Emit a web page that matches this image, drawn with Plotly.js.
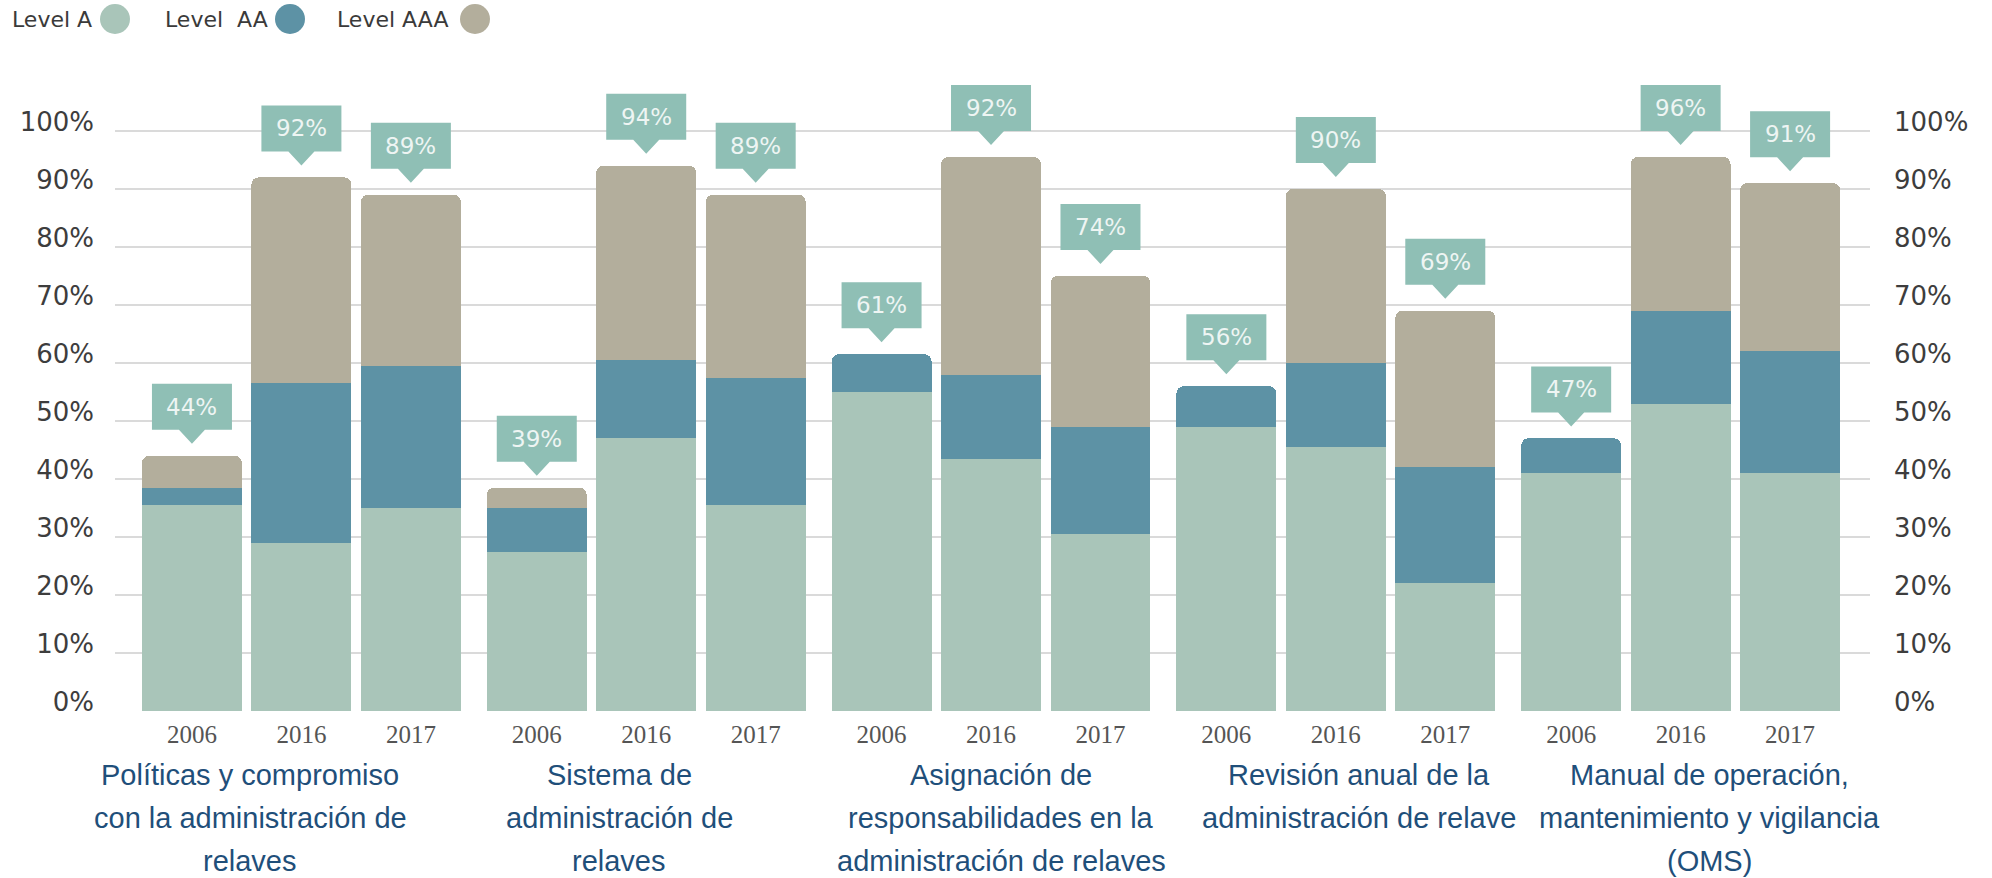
<!DOCTYPE html>
<html>
<head>
<meta charset="utf-8">
<script src="https://cdn.plot.ly/plotly-3.0.1.min.js"></script>
<style>
  html, body { margin: 0; padding: 0; background: #ffffff; }
  #chart { width: 1992px; height: 878px; }
</style>
</head>
<body>
<div id="chart"></div>
<script>
// ---- Data ----
const groups = [
  "Políticas y compromiso<br>con la administración de<br>relaves",
  "Sistema de<br>administración de<br>relaves",
  "Asignación de<br>responsabilidades en la<br>administración de relaves",
  "Revisión anual de la<br>administración de relave",
  "Manual de operación,<br>mantenimiento y vigilancia<br>(OMS)"
];
const years = ["2006", "2016", "2017"];

// one value per bar, ordered group by group, year by year
const levelA   = [35.5, 29.0, 35.0,  27.5, 47.0, 35.5,  55.0, 43.5, 30.5,  49.0, 45.5, 22.0,  41.0, 53.0, 41.0];
const levelAA  = [ 3.0, 27.5, 24.5,   7.5, 13.5, 22.0,   6.5, 14.5, 18.5,   7.0, 14.5, 20.0,   6.0, 16.0, 21.0];
const levelAAA = [ 5.5, 35.5, 29.5,   3.5, 33.5, 31.5,   0.0, 37.5, 26.0,   0.0, 30.0, 27.0,   0.0, 26.5, 29.0];
const printedTotals = [44, 92, 89,  39, 94, 89,  61, 92, 74,  56, 90, 69,  47, 96, 91];

const yTicks = [0, 10, 20, 30, 40, 50, 60, 70, 80, 90, 100];

// ---- Styling ----
const colA = "#a9c5b9", colAA = "#5d92a5", colAAA = "#b3ae9c";
const calloutCol = "#8fbfb5";
const groupStep = 3.15;         // horizontal distance between groups (in bar slots)

// positions of the bars on a numeric axis (slot index + group spacing)
const xs = [];
const yearText = [];
groups.forEach((g, gi) => years.forEach((yr, yi) => { xs.push(gi * groupStep + yi); yearText.push(yr); }));
const stackTop = levelA.map((v, i) => v + levelAA[i] + levelAAA[i]);

const traces = [
  { type: "bar", name: "Level A",   x: xs, y: levelA,   marker: { color: colA },   hoverinfo: "y+name" },
  { type: "bar", name: "Level AA",  x: xs, y: levelAA,  marker: { color: colAA },  hoverinfo: "y+name" },
  { type: "bar", name: "Level AAA", x: xs, y: levelAAA, marker: { color: colAAA }, hoverinfo: "y+name" },
  { type: "scatter", mode: "none", x: xs, y: stackTop, yaxis: "y2", hoverinfo: "skip", showlegend: false }
];

const shapes = [];
const annotations = [];

// callouts above each bar
xs.forEach((x, i) => {
  shapes.push({
    type: "path", layer: "above",
    xref: "x", yref: "y", xsizemode: "pixel", ysizemode: "pixel",
    xanchor: x, yanchor: stackTop[i],
    path: "M 0,12 L -13,26 L -40,26 L -40,72 L 40,72 L 40,26 L 13,26 Z",
    fillcolor: calloutCol, line: { width: 0 }
  });
  annotations.push({
    xref: "x", yref: "y", x: x, y: stackTop[i], yshift: 49,
    text: printedTotals[i] + "%", showarrow: false, yanchor: "middle", xanchor: "center",
    font: { family: "DejaVu Sans", size: 23, color: "#eef5f3" }
  });
});

// group captions below the years (one annotation per line for the line spacing)
const captionShift = [-51, -27, 10, 23, 29];
const captionFont = { family: "Liberation Sans, Arial, sans-serif", size: 29, color: "#1f4f7a" };
groups.forEach((g, gi) => {
  g.split("<br>").forEach((line, li) => {
    annotations.push({
      xref: "x", yref: "paper", x: gi * groupStep + 1, y: 0,
      xshift: captionShift[gi], yshift: -64 - 43 * li,
      yanchor: "middle", xanchor: "center", showarrow: false, text: line,
      font: captionFont
    });
  });
});

// legend (text followed by a round swatch), placed above the plot area
const legendItems = [
  { text: "Level A",   textX: 10,  dotX: 115, col: colA },
  { text: "Level&nbsp; AA", textX: 163, dotX: 290, col: colAA },
  { text: "Level AAA", textX: 335, dotX: 475, col: colAAA }
];
const plotLeft = 115, plotTop = 80;
legendItems.forEach(it => {
  annotations.push({
    xref: "paper", yref: "paper", x: 0, y: 1, xshift: it.textX - plotLeft, yshift: plotTop - 19,
    xanchor: "left", yanchor: "middle", showarrow: false, text: it.text,
    font: { family: "DejaVu Sans", size: 22, color: "#3a3a3a" }
  });
  shapes.push({
    type: "circle", xref: "paper", yref: "paper", xsizemode: "pixel", ysizemode: "pixel",
    xanchor: 0, yanchor: 1,
    x0: it.dotX - plotLeft - 15, x1: it.dotX - plotLeft + 15,
    y0: plotTop - 19 - 15, y1: plotTop - 19 + 15,
    fillcolor: it.col, line: { width: 0 }
  });
});

const yMax = (711 - plotTop) / 5.8;
const tickFont = { family: "DejaVu Sans", size: 26, color: "#3d3d3d" };

const layout = {
  width: 1992, height: 878,
  margin: { l: plotLeft, r: 122, t: plotTop, b: 167, pad: 0 },
  paper_bgcolor: "#ffffff", plot_bgcolor: "#ffffff",
  barmode: "stack", bargap: 0.087, barcornerradius: 7,
  showlegend: false,
  xaxis: {
    type: "linear", range: [-0.703, 15.33],
    tickmode: "array", tickvals: xs, ticktext: yearText,
    ticks: "", showgrid: false, zeroline: false, showline: false,
    tickfont: { family: "Liberation Serif, DejaVu Serif, serif", size: 25, color: "#555555" },
    ticklabelstandoff: 6, fixedrange: true
  },
  yaxis: {
    range: [0, yMax], tickmode: "array", tickvals: yTicks, ticktext: yTicks.map(v => v + "%"),
    showgrid: true, gridcolor: "#dadada", gridwidth: 2, zeroline: false, showline: false, ticks: "",
    tickfont: tickFont, ticklabelstandoff: 20, ticklabelshift: -9, fixedrange: true
  },
  yaxis2: {
    overlaying: "y", side: "right", range: [0, yMax],
    tickmode: "array", tickvals: yTicks, ticktext: yTicks.map(v => v + "%"),
    showgrid: false, zeroline: false, showline: false, ticks: "",
    tickfont: tickFont, ticklabelstandoff: 23, ticklabelshift: -9, fixedrange: true
  },
  shapes: shapes,
  annotations: annotations
};

Plotly.newPlot("chart", traces, layout, { displayModeBar: false, staticPlot: true });
</script>
</body>
</html>
